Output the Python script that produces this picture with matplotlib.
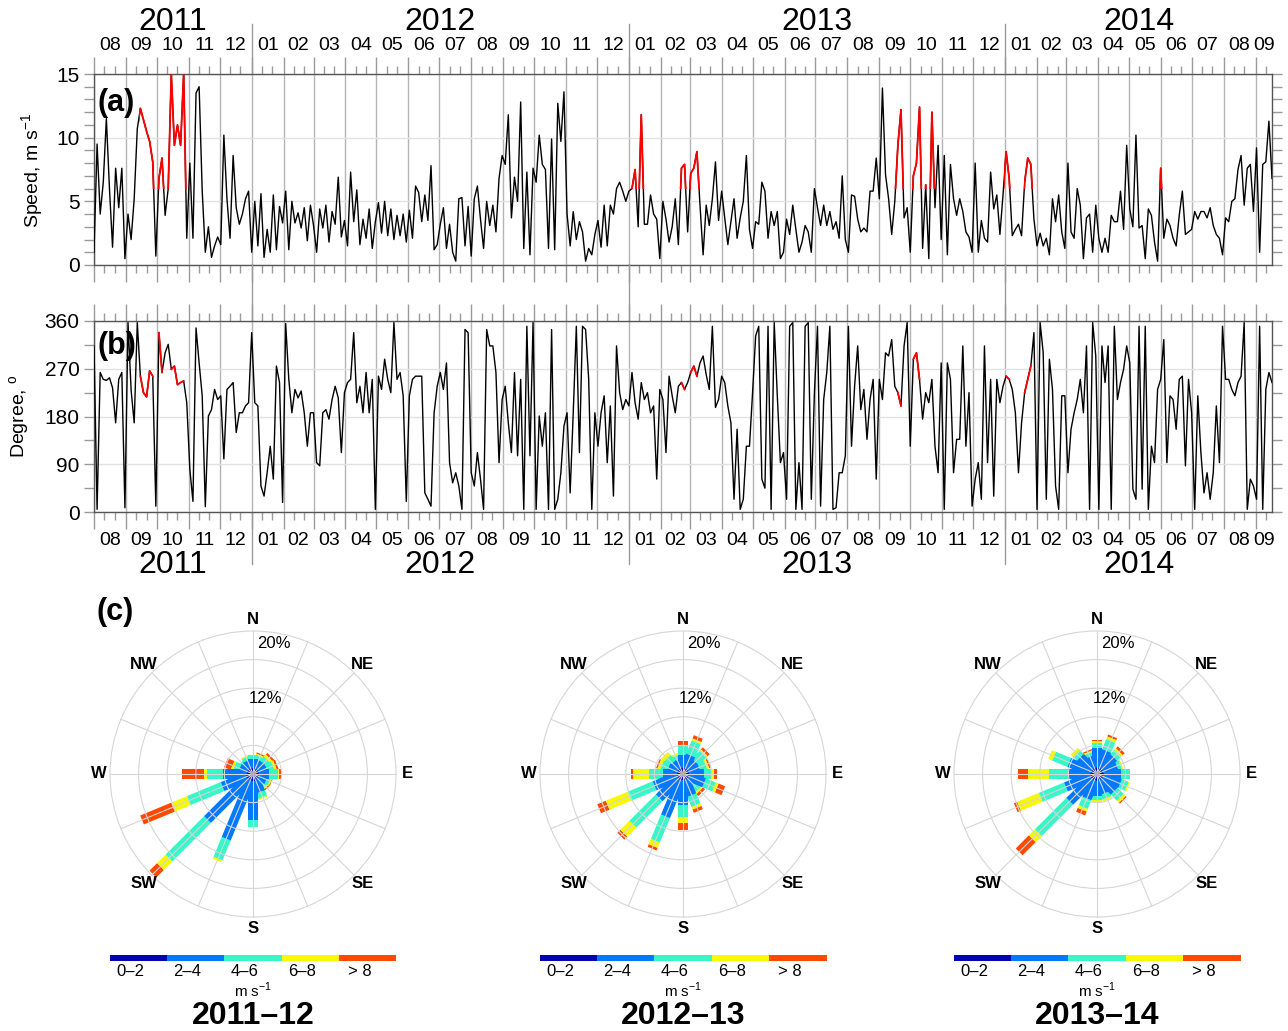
import numpy as np
import matplotlib
matplotlib.use("Agg")
import matplotlib.pyplot as plt
import matplotlib.transforms as mtransforms
from matplotlib.patches import Polygon, Circle, Rectangle

plt.rcParams['font.family'] = ['Liberation Sans', 'DejaVu Sans']
plt.rcParams['mathtext.fontset'] = 'custom'
plt.rcParams['mathtext.rm'] = 'Liberation Sans'

# -----------------------------------------------------------------------
#  Data (one sample every 3 days from 2011-08-01)
# -----------------------------------------------------------------------
START = np.datetime64('2011-08-01')
LAST_DAY = 1143
STEP = 3

speed = [
    # Aug - Dec 2011
    1.0, 9.5, 4.0, 6.5, 11.5, 6.0, 1.4, 7.6, 4.5, 7.6,
    0.5, 4.0, 2.0, 5.2, 10.7, 12.3, 11.4, 10.5, 9.7, 8.1,
    0.7, 6.8, 8.4, 3.9, 6.0, 15.0, 9.4, 11.0, 9.4, 15.0,
    2.1, 8.0, 2.1, 13.5, 14.0, 5.8, 1.0, 3.0, 0.6, 1.5,
    2.2, 1.6, 10.2, 5.2, 2.1, 8.6, 4.5, 3.2, 4.0, 5.2,
    5.8,
    # 2012
    1.0, 5.0, 1.5, 5.6, 0.6, 2.8, 1.0, 5.5, 1.2, 4.6,
    3.3, 5.8, 1.2, 5.0, 3.3, 4.1, 2.9, 4.5, 1.9, 4.7,
    3.1, 1.0, 4.4, 2.9, 4.7, 1.8, 4.2, 3.2, 6.9, 2.2,
    3.5, 1.5, 7.3, 3.4, 5.9, 1.6, 3.6, 2.1, 4.4, 1.3,
    3.4, 4.9, 2.5, 5.0, 2.3, 4.4, 2.0, 3.9, 2.3, 4.0,
    1.8, 4.3, 2.1, 6.2, 5.7, 3.4, 5.5, 3.5, 7.8, 1.2,
    1.6, 3.2, 4.5, 1.3, 3.2, 1.0, 0.3, 5.2, 5.3, 1.5,
    4.6, 0.7, 5.2, 6.2, 3.6, 1.3,
    5.0, 3.1, 4.7, 2.6, 6.8, 8.6, 7.9, 11.8, 3.7, 6.9,
    5.0, 12.8, 1.3, 7.3, 0.8, 7.6, 6.5, 10.2, 7.9, 7.5,
    1.3, 9.9, 1.2, 12.7, 9.7, 13.6, 4.0, 1.5, 4.2, 2.0,
    3.4, 2.6, 0.3, 1.3, 0.8, 2.4, 3.5, 1.4, 4.7, 1.5,
    4.7, 4.0, 6.0, 6.5, 5.8, 5.0, 5.8, 6.0, 7.5, 3.0,
    # 2013
    11.8, 3.2, 3.2, 5.5, 4.0, 3.6, 0.5, 5.0, 3.6, 1.8,
    3.0, 5.2, 1.6, 7.6, 7.9, 2.6, 7.2, 7.6, 8.9, 4.7,
    0.8, 4.7, 3.1, 5.2, 8.1, 3.5, 5.8, 3.7, 1.6, 3.4,
    5.2, 2.1, 3.7, 5.0, 8.6, 2.8, 1.3, 3.4, 3.2, 6.5,
    5.8, 2.1, 4.2, 3.1, 4.2, 0.5, 1.0, 3.6, 2.4, 4.7,
    2.8, 1.0, 1.8, 3.1, 2.6, 1.0, 6.0, 4.5, 3.1, 4.7,
    3.1, 4.2, 2.8, 3.4, 2.1, 7.0, 2.0, 1.0, 5.5, 5.4,
    3.6, 2.6, 2.9, 2.6, 5.8, 5.8, 8.4, 5.2,
    13.9, 7.1, 5.2, 2.4, 5.0, 9.4, 12.2, 3.7, 4.5, 1.0,
    7.0, 8.0, 12.4, 1.3, 6.3, 0.5, 12.0, 4.5, 9.4, 2.0,
    8.6, 0.8, 7.9, 5.2, 3.9, 5.2, 4.2, 2.6, 2.2, 1.0,
    8.0, 1.0, 3.5, 2.1, 1.8, 7.3, 4.4, 5.5, 2.4, 5.5,
    # 2014
    8.9, 6.8, 2.3, 2.8, 3.2, 2.3, 6.5, 8.4, 7.9, 3.6,
    1.5, 2.5, 1.5, 2.1, 0.8, 5.2, 3.4, 5.5, 2.6, 1.3,
    8.0, 2.6, 2.1, 6.0, 4.7, 0.5, 3.7, 4.0, 1.0, 4.7,
    2.1, 1.0, 2.1, 1.0, 3.9, 3.4, 3.4, 5.8, 2.8, 9.4,
    4.4, 3.0, 10.2, 2.9, 3.1, 0.5, 4.4, 3.9, 1.8, 0.3,
    7.6, 2.1, 3.6, 3.1, 2.1, 1.5, 3.9, 5.8, 2.4, 2.6,
    2.8, 4.2, 3.6, 4.2, 4.2, 3.7, 4.5, 3.1, 2.4, 2.1,
    0.8, 3.7, 3.4, 5.0, 5.2, 7.5, 8.6, 4.7, 7.6, 7.9,
    4.2, 9.2, 1.0, 7.9, 8.1, 11.3, 6.8,
]

direction = [
    313, 5, 263, 250, 248, 253, 234, 168, 250, 263,
    8, 357, 230, 168, 357, 256, 225, 217, 266, 256,
    11, 338, 263, 300, 316, 269, 275, 240, 244, 247,
    206, 80, 20, 347, 281, 219, 10, 181, 193, 231,
    212, 219, 100, 231, 237, 244, 150, 187, 187, 200,
    206, 338, 206, 200, 49, 30, 74, 124, 62, 275,
    244, 18, 355, 250, 187, 231, 215, 228, 187, 124,
    187, 187, 93, 87, 187, 193, 175, 212, 237, 215,
    112, 225, 244, 250, 338, 206, 237, 187, 263, 187,
    250, 5, 256, 231, 288, 250, 225, 357, 250, 263,
    219, 20, 219, 250, 256, 256, 256, 36, 24, 11,
    187, 237, 263, 231, 281, 93, 55, 74, 49, 5,
    344, 338, 74, 49, 112, 62, 5, 344, 313, 313,
    263, 93, 212, 237, 168, 112, 263, 106, 250, 5,
    350, 106, 357, 5, 181, 124, 187, 5, 344, 5,
    24, 74, 162, 187, 36, 187, 350, 112, 350, 344,
    250, 5, 187, 124, 187, 219, 93, 200, 30, 313,
    225, 193, 212, 200, 263, 206, 175, 244, 212, 225,
    187, 200, 62, 231, 212, 112, 256, 219, 187, 237,
    244, 231, 244, 263, 275, 256, 281, 294, 259, 231,
    350, 197, 212, 256, 244, 200, 168, 24, 156, 5,
    24, 124, 124, 225, 332, 350, 62, 45, 350, 5,
    357, 219, 93, 112, 24, 350, 357, 5, 93, 5,
    350, 357, 24, 225, 350, 11, 212, 263, 350, 5,
    8, 74, 74, 106, 350, 124, 237, 313, 193, 231,
    137, 212, 250, 62, 250, 212, 300, 294, 325, 237,
    225, 200, 313, 357, 124, 288, 300, 250, 175, 225,
    206, 250, 124, 74, 281, 5, 281, 250, 74, 137,
    137, 313, 124, 225, 11, 62, 93, 24, 313, 93,
    250, 30, 250, 206, 237, 256, 250, 231, 187, 74,
    168, 225, 250, 275, 338, 5, 357, 300, 24, 288,
    231, 49, 5, 219, 219, 74, 156, 187, 212, 250,
    187, 313, 5, 357, 294, 5, 313, 244, 313, 5,
    350, 212, 244, 269, 313, 281, 43, 24, 350, 43,
    350, 5, 124, 93, 231, 250, 325, 93, 219, 212,
    156, 250, 256, 87, 250, 187, 5, 219, 112, 36,
    74, 24, 74, 200, 93, 350, 250, 250, 231, 219,
    244, 256, 357, 5, 62, 49, 24, 350, 5, 231,
    263, 244,
]

# strong-wind events (day ranges) drawn in red where speed > 6 m/s
event_windows = [(44, 90), (520, 536), (566, 588), (776, 816),
                 (883, 890), (902, 911), (1032, 1038)]
RED_LEVEL = 6.0

# wind roses: % of time per sector (N, NNE, ... NNW) and speed class
sectors = ['N', 'NNE', 'NE', 'ENE', 'E', 'ESE', 'SE', 'SSE',
           'S', 'SSW', 'SW', 'WSW', 'W', 'WNW', 'NW', 'NNW']
speed_classes = ['0\u20132', '2\u20134', '4\u20136', '6\u20138', '> 8']
class_colors = ['#0000b4', '#0078ff', '#35f7c8', '#f8f800', '#ff4800']

rose_2011_12 = [
    [0.6, 1.5, 0.6, 0.0, 0.0], [0.6, 1.4, 0.6, 0.2, 0.2],
    [0.5, 1.5, 0.8, 0.4, 0.3], [0.5, 1.5, 1.0, 0.3, 0.3],
    [0.5, 1.8, 1.2, 0.2, 0.2], [0.5, 1.5, 0.5, 0.2, 0.1],
    [0.5, 1.4, 0.5, 0.2, 0.2], [0.5, 2.2, 0.8, 0.2, 0.0],
    [0.6, 5.8, 1.0, 0.0, 0.0], [0.8, 9.0, 3.0, 0.3, 0.0],
    [0.8, 8.2, 7.6, 1.7, 1.5], [0.7, 3.9, 5.1, 2.4, 4.7],
    [0.5, 3.7, 2.2, 0.4, 3.1], [0.5, 1.5, 0.8, 0.3, 1.0],
    [0.5, 1.3, 0.5, 0.0, 0.0], [0.5, 1.5, 0.5, 0.2, 0.0],
]
rose_2012_13 = [
    [0.6, 2.0, 1.4, 0.1, 0.5], [0.6, 2.2, 2.0, 0.3, 0.5],
    [0.6, 1.8, 1.6, 0.2, 0.4], [0.6, 1.8, 1.0, 0.3, 0.3],
    [0.6, 2.4, 0.9, 0.4, 0.5], [0.6, 2.6, 1.5, 0.4, 1.0],
    [0.5, 1.5, 1.0, 0.3, 0.4], [0.6, 2.6, 1.5, 0.4, 0.5],
    [0.6, 3.7, 1.7, 0.9, 1.0], [0.6, 5.8, 3.7, 0.8, 0.4],
    [0.6, 4.1, 5.2, 1.8, 0.6], [0.6, 3.7, 3.8, 3.3, 1.3],
    [0.5, 2.3, 1.9, 2.3, 0.3], [0.5, 1.7, 1.0, 0.4, 0.2],
    [0.5, 1.6, 1.0, 0.6, 0.0], [0.5, 1.5, 0.7, 0.3, 0.0],
]
rose_2013_14 = [
    [0.7, 2.9, 0.8, 0.2, 0.2], [0.7, 2.8, 1.5, 0.4, 0.3],
    [0.7, 2.6, 0.8, 0.3, 0.4], [0.7, 2.3, 0.5, 0.2, 0.0],
    [0.7, 2.7, 1.2, 0.0, 0.0], [0.7, 2.8, 1.0, 0.2, 0.0],
    [0.7, 2.7, 1.2, 0.4, 0.2], [0.7, 2.2, 0.7, 0.3, 0.0],
    [0.7, 2.4, 0.6, 0.2, 0.0], [0.7, 3.0, 1.3, 0.4, 0.6],
    [0.7, 4.7, 6.2, 1.2, 2.6], [0.7, 4.0, 3.8, 3.3, 0.5],
    [0.7, 3.4, 2.6, 2.9, 1.4], [0.7, 3.5, 2.3, 0.6, 0.0],
    [0.7, 2.6, 0.8, 0.4, 0.0], [0.6, 2.0, 0.5, 0.2, 0.2],
]
rose_titles = ['2011\u201312', '2012\u201313', '2013\u201314']

# -----------------------------------------------------------------------
#  Helpers
# -----------------------------------------------------------------------
W, H = 1288, 1031


def px_rect(left, top, w, h):
    """axes rectangle in figure fractions from pixel box (top-left origin)"""
    return [left / W, 1 - (top + h) / H, w / W, h / H]


days = np.arange(0, LAST_DAY + 1, STEP)
speed = np.array(speed, dtype=float)
direction = np.array(direction, dtype=float)
assert len(speed) == len(days) and len(direction) == len(days)

month_starts = np.arange(np.datetime64('2011-08'), np.datetime64('2014-10'))
month_day = (month_starts.astype('datetime64[D]') - START).astype(int)
month_end = np.append(month_day[1:], LAST_DAY)
month_end = np.minimum(month_end, LAST_DAY)
month_mid = (month_day + month_end) / 2.0
month_lab = [str(m)[5:7] for m in month_starts]
ten_day = np.concatenate([month_day + 10, month_day + 20])
ten_day = ten_day[ten_day < LAST_DAY]

year_bounds = [0, 153, 519, 884, LAST_DAY]
year_lab = ['2011', '2012', '2013', '2014']

in_event = np.zeros(len(days), dtype=bool)
for t0, t1 in event_windows:
    in_event |= (days >= t0) & (days <= t1)
red_mask = in_event & (speed > RED_LEVEL)

fig = plt.figure(figsize=(W / 100, H / 100), dpi=100)

ax_a = fig.add_axes(px_rect(94, 74, 1178, 191))
ax_b = fig.add_axes(px_rect(94, 321, 1178, 191))

TICK_C = '#9a9a9a'
for ax in (ax_a, ax_b):
    ax.set_xlim(0, LAST_DAY)
    ax.set_xticks(month_day)
    ax.set_xticks(ten_day, minor=True)
    ax.tick_params(axis='x', which='major', direction='out', length=12,
                   width=1, color=TICK_C, top=True, bottom=True,
                   labelbottom=False, labeltop=False)
    ax.tick_params(axis='x', which='minor', direction='out', length=6,
                   width=1, color=TICK_C, top=True, bottom=True)
    ax.tick_params(axis='y', which='both', direction='out', length=7,
                   width=1, color=TICK_C, left=True, right=True,
                   labelsize=15)
    ax.grid(axis='x', which='major', color='#b4b4b4', lw=1.0)
    ax.grid(axis='y', which='major', color='#e2e2e2', lw=1.0)
    ax.set_axisbelow(True)
    for s in ax.spines.values():
        s.set_color('#555555')
        s.set_linewidth(1.0)

# -----------------------------------------------------------------------
#  (a) wind speed
# -----------------------------------------------------------------------
ax_a.plot(days, speed, color='black', lw=1.0, zorder=3)
for t0, t1 in event_windows:
    ln, = ax_a.plot(days, speed, color='red', lw=1.3, zorder=4)
    clip = Rectangle((t0, RED_LEVEL), t1 - t0, 15 - RED_LEVEL,
                     transform=ax_a.transData)
    ln.set_clip_path(clip)
ax_a.set_ylim(0, 15)
ax_a.set_yticks([0, 5, 10, 15])
ax_a.set_yticks(np.arange(0, 16, 1), minor=True)
ax_a.text(0.003, 0.85, '(a)', transform=ax_a.transAxes, fontsize=22,
          fontweight='bold', va='center', ha='left', zorder=5)

# -----------------------------------------------------------------------
#  (b) wind direction
# -----------------------------------------------------------------------
ax_b.plot(days, direction, color='black', lw=1.0, zorder=3)
ax_b.plot(days, np.where(red_mask, direction, np.nan), color='red',
          lw=1.3, zorder=4)
ax_b.set_ylim(0, 360)
ax_b.set_yticks([0, 90, 180, 270, 360])
ax_b.set_yticks(np.arange(0, 361, 45), minor=True)
ax_b.text(0.003, 0.87, '(b)', transform=ax_b.transAxes, fontsize=22,
          fontweight='bold', va='center', ha='left', zorder=5)

# month / year labels and long year separators
tr_a = mtransforms.blended_transform_factory(ax_a.transData, ax_a.transAxes)
tr_b = mtransforms.blended_transform_factory(ax_b.transData, ax_b.transAxes)
for x, lab in zip(month_mid, month_lab):
    ax_a.text(x, 1.147, lab, transform=tr_a, ha='center', va='center',
              fontsize=14)
    ax_b.text(x, -0.147, lab, transform=tr_b, ha='center', va='center',
              fontsize=14)
for i, lab in enumerate(year_lab):
    xc = (year_bounds[i] + year_bounds[i + 1]) / 2
    ax_a.text(xc, 1.272, lab, transform=tr_a, ha='center', va='center',
              fontsize=23)
    ax_b.text(xc, -0.278, lab, transform=tr_b, ha='center', va='center',
              fontsize=23)
for x in year_bounds[1:-1]:
    ax_a.plot([x, x], [1.0, 1.26], transform=tr_a, clip_on=False,
              color=TICK_C, lw=1)
    ax_b.plot([x, x], [1.0, 1.30], transform=tr_b, clip_on=False,
              color=TICK_C, lw=1)
    ax_b.plot([x, x], [-0.27, 0.0], transform=tr_b, clip_on=False,
              color=TICK_C, lw=1)

fig.text(33 / W, 1 - 170 / H, 'Speed, m s$^{-1}$', rotation=90,
         ha='center', va='center', fontsize=14)
fig.text(20 / W, 1 - 416 / H, 'Degree, $^{\\rm o}$', rotation=90,
         ha='center', va='center', fontsize=14)

# -----------------------------------------------------------------------
#  (c) wind roses
# -----------------------------------------------------------------------
fig.text(97 / W, 1 - 612 / H, '(c)', fontsize=22, fontweight='bold',
         ha='left', va='center')

PX_PER_PCT = 7.15
HALF = 170
BAR_W = 1.35
angles = np.deg2rad(np.arange(16) * 22.5)
compass = [('N', 0), ('NE', 45), ('E', 90), ('SE', 135),
           ('S', 180), ('SW', 225), ('W', 270), ('NW', 315)]
centers = [253, 683, 1097]
CY = 774

for cx, rose, title in zip(centers, [rose_2011_12, rose_2012_13, rose_2013_14],
                           rose_titles):
    ax = fig.add_axes(px_rect(cx - HALF, CY - HALF, 2 * HALF, 2 * HALF))
    lim = HALF / PX_PER_PCT
    ax.set_xlim(-lim, lim)
    ax.set_ylim(-lim, lim)
    ax.set_aspect('equal')
    ax.axis('off')

    rose = np.array(rose)
    cum = np.cumsum(rose, axis=1)
    start = cum - rose
    # outer classes first so the calm classes stay visible at the centre
    for j in range(4, -1, -1):
        for i, th in enumerate(angles):
            if rose[i, j] <= 0:
                continue
            u = np.array([np.sin(th), np.cos(th)])
            p = np.array([np.cos(th), -np.sin(th)]) * BAR_W / 2
            r0, r1 = start[i, j], cum[i, j]
            pts = [r0 * u + p, r1 * u + p, r1 * u - p, r0 * u - p]
            ax.add_patch(Polygon(pts, closed=True, fc=class_colors[j],
                                 ec='none', zorder=2))

    for r in [4, 8, 12, 16, 20]:
        ax.add_patch(Circle((0, 0), r, fill=False, ec='#d6d6d6', lw=0.8,
                            zorder=3))
    for th in angles:
        ax.plot([0, 20 * np.sin(th)], [0, 20 * np.cos(th)],
                color='#d6d6d6', lw=0.8, zorder=3)
    ax.add_patch(Circle((0, 0), 0.35, fc='#b0b0b0', ec='none', zorder=4))

    for name, deg in compass:
        t = np.deg2rad(deg)
        ax.text(21.6 * np.sin(t), 21.6 * np.cos(t), name, ha='center',
                va='center', fontsize=12, fontweight='bold')
    ax.text(2.9, 18.3, '20%', ha='center', va='center', fontsize=12)
    ax.text(1.8, 10.6, '12%', ha='center', va='center', fontsize=12)

    # speed-class colour key
    left = cx - 143.5
    ax_l = fig.add_axes(px_rect(left, 955, 287, 6))
    ax_l.bar(np.arange(5), 1, width=1.0, color=class_colors)
    ax_l.set_xlim(-0.5, 4.5)
    ax_l.set_ylim(0, 1)
    ax_l.axis('off')
    blk = 287 / 5
    for j, lab in enumerate(speed_classes):
        fig.text((left + blk * (j + 0.5) - 8) / W, 1 - 971 / H, lab,
                 ha='center', va='center', fontsize=12)
    fig.text(cx / W, 1 - 990 / H, 'm s$^{-1}$', ha='center', va='center',
             fontsize=11)
    fig.text(cx / W, 1 - 1016 / H, title, ha='center', va='center',
             fontsize=23, fontweight='bold')

fig.savefig('out.png', dpi=100)
